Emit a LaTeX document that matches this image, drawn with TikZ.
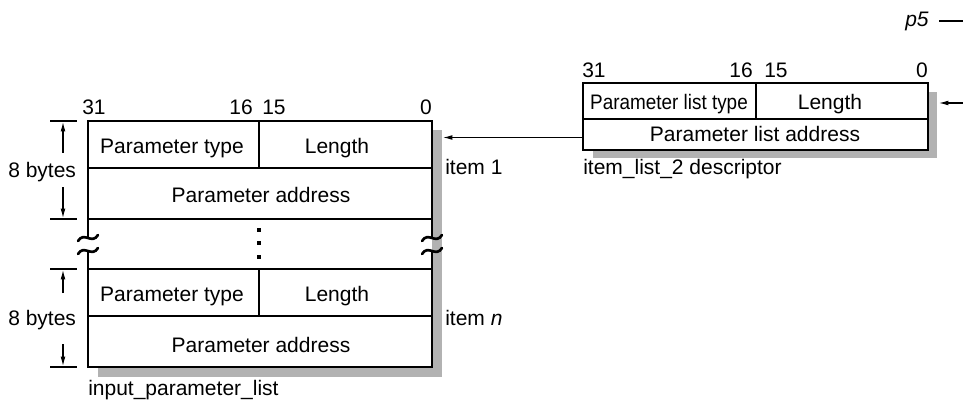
\documentclass[tikz,border=0pt]{standalone}
\usepackage{fontspec}
\setmainfont{Liberation Sans}
\usetikzlibrary{arrows.meta}
\begin{document}
\begin{tikzpicture}[x=0.75pt,y=-0.75pt,
  txt/.style={inner sep=0pt, anchor=base, font=\fontsize{15.75}{18}\selectfont},
  txtl/.style={txt, anchor=base west},
  txtr/.style={txt, anchor=base east},
  thickline/.style={line width=2.2pt},
  thinline/.style={line width=1pt},
  shadowbox/.style={fill=black!30, draw=none},
  ptr/.style={line width=0.8pt, -{Latex[length=7pt,width=3.6pt]}},
  ticked/.style={line width=1pt},
  brk/.pic={\draw[line width=2pt, line cap=round] (-10,3) .. controls (-4,-7) and (4,7) .. (10,-3);},
  dotbox/.style={fill=black, draw=none}]
\useasboundingbox (0,0) rectangle (963,406);

% ---------- p5 label ----------
\node[txtl] (p5) at (905,27) {\itshape p5};
\coordinate (dashA) at (939,21);
\coordinate (dashB) at (963,21);
\draw[line width=0.8pt] (dashA) -- (dashB);

% ---------- main list ----------
\fill[shadowbox] (98,130) rectangle (442,377);
\fill[white] (88,121) rectangle (432,367);
\draw[thinline] (88,168) -- (432,168);
\draw[thinline] (88,219) -- (432,219);
\draw[thinline] (259,121) -- (259,168);
\draw[thinline] (88,316) -- (432,316);
\draw[thinline] (259,269) -- (259,316);
\draw[thickline] (88,237) -- (88,121) -- (432,121) -- (432,237);
\draw[thickline] (88,252) -- (88,367) -- (432,367) -- (432,252);
\draw[thickline] (88,269) -- (432,269);
\pic at (88,238) {brk};
\pic at (88,251) {brk};
\pic at (432,238) {brk};
\pic at (432,251) {brk};
\fill[dotbox] (257,228) rectangle (261,232);
\fill[dotbox] (257,241) rectangle (261,245);
\fill[dotbox] (257,255) rectangle (261,259);

\node[txtl] (b31) at (82,115) {31};
\node[txtr] (b16) at (253,115) {16};
\node[txtl] (b15) at (262,115) {15};
\node[txtr] (b0) at (432,115) {0};

\node[txt] (pt1) at (172,154) {Parameter type};
\node[txt] (len1) at (337,154) {Length};
\node[txt] (pa1) at (261,202) {Parameter address};
\node[txt] (pt2) at (172,301) {Parameter type};
\node[txt] (len2) at (337,301) {Length};
\node[txt] (pa2) at (261,352) {Parameter address};

\node[txtl] (item1) at (445,175) {item 1};
\node[txtl] (itemn) at (445,325) {item \textit{n}};
\node[txtl] (ipl) at (88,395) {input\_parameter\_list};

% dimension marks
\node[txtl] (by1) at (8,177) {8 bytes};
\node[txtl] (by2) at (8,325) {8 bytes};
\draw[ticked] (50,121) -- (77,121);
\draw[ticked] (50,219) -- (77,219);
\draw[ticked] (50,269) -- (77,269);
\draw[ticked] (50,367) -- (77,367);
\coordinate (u1a) at (63,153); \coordinate (u1b) at (63,122);
\coordinate (d1a) at (63,187); \coordinate (d1b) at (63,218);
\coordinate (u2a) at (63,293); \coordinate (u2b) at (63,270);
\coordinate (d2a) at (63,344); \coordinate (d2b) at (63,366);
\draw[ptr] (u1a) -- (u1b);
\draw[ptr] (d1a) -- (d1b);
\draw[ptr] (u2a) -- (u2b);
\draw[ptr] (d2a) -- (d2b);

% ---------- descriptor ----------
\fill[shadowbox] (593,92) rectangle (937,158);
\fill[white] (583,83) rectangle (928,150);
\draw[thinline] (583,119) -- (928,119);
\draw[thinline] (756,83) -- (756,119);
\draw[thickline] (583,83) rectangle (928,150);

\node[txtl] (d31) at (582,78) {31};
\node[txtr] (d16) at (753,78) {16};
\node[txtl] (d15) at (764,78) {15};
\node[txtr] (d0) at (928,78) {0};

\node[txt] (dplt) at (669,110) {\scalebox{0.9}[1]{Parameter list type}};
\node[txt] (dlen) at (830,110) {Length};
\node[txt] (dpla) at (755,142) {Parameter list address};
\node[txtl] (dname) at (583,175) {item\_list\_2 descriptor};

% ---------- pointers ----------
\coordinate (descL) at (583,137.5);
\coordinate (mainR) at (443,137.5);
\draw[ptr] (descL) -- (mainR);
\coordinate (inR) at (963,103);
\coordinate (descR) at (939,103);
\draw[ptr] (inR) -- (descR);
\end{tikzpicture}
\end{document}
